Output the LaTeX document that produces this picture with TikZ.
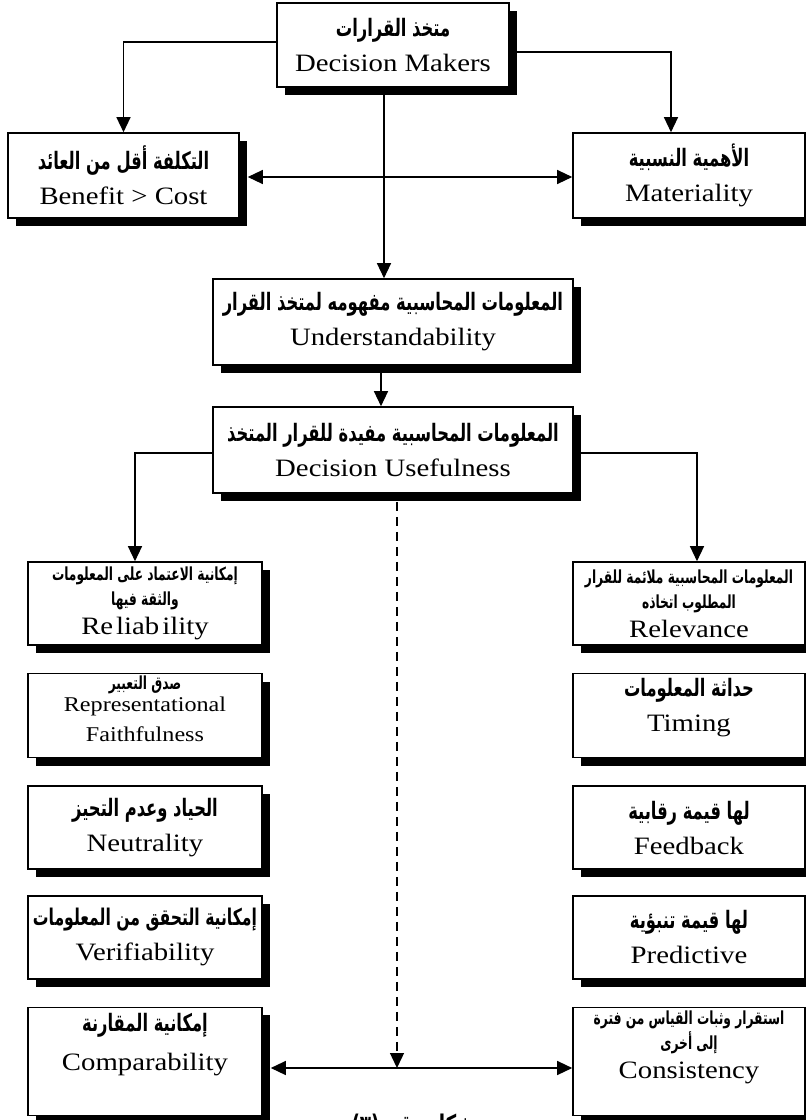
\documentclass[tikz,border=0pt]{standalone}
\usepackage{fontspec}
\setmainfont{Liberation Serif}[FakeStretch=1.15]
\newfontfamily\arabicfont[Script=Arabic,FakeStretch=0.68]{DejaVu Sans}
\TeXXeTstate=1
\usepackage{tikz}
\usetikzlibrary{positioning,arrows.meta,shadows}
\newcommand{\ar}[2][24]{{\arabicfont\bfseries\fontsize{#1}{#1}\selectfont\beginR #2\endR}}

\begin{document}
\begin{tikzpicture}[x=1pt,y=-1pt,font=\fontsize{25}{35}\selectfont,node distance=27pt]
  \tikzstyle{card}=[draw,line width=1.6pt,fill=white,align=center,inner sep=1pt,
    drop shadow={shadow xshift=8pt,shadow yshift=-8pt,fill=black,opacity=1}]
  \tikzstyle{leftcol}=[card,minimum width=234pt,minimum height=83pt]
  \tikzstyle{rightcol}=[card,minimum width=232pt,minimum height=83pt]
  \tikzstyle{link}=[line width=1.3pt,-{Triangle[length=15pt,width=14pt]}]
  \tikzstyle{both}=[line width=1.3pt,{Triangle[length=15pt,width=14pt]}-{Triangle[length=15pt,width=14pt]}]
  \useasboundingbox (0,0) rectangle (806,1120);

  \node[card,minimum width=232pt,minimum height=84pt] (makers) at (393,45)
    {\ar{متخذ القرارات}\\Decision Makers};
  \node[card,minimum width=231pt,minimum height=85pt] (benefit) at (123.5,175.5)
    {\ar{التكلفة أقل من العائد}\\Benefit > Cost};
  \node[card,minimum width=232pt,minimum height=85pt] (mater) at (689,175.5)
    {\ar{الأهمية النسبية}\\Materiality};
  \node[card,minimum width=360pt,minimum height=86pt] (under) at (393,322)
    {\ar{المعلومات المحاسبية مفهومه لمتخذ القرار}\\Understandability};
  \node[card,minimum width=360pt,minimum height=86pt] (useful) at (393,450)
    {\ar{المعلومات المحاسبية مفيدة للقرار المتخذ}\\Decision Usefulness};

  % left column
  \node[leftcol] (rel) at (145,603.5)
    {\ar[18]{إمكانية الاعتماد على المعلومات}\\[-10pt]\ar[18]{والثقة فيها}\\[-6pt]
     Re\hspace{3pt}liab\hspace{3pt}ility};
  \node[leftcol,below=of rel,minimum height=84pt,font=\fontsize{21}{30}\selectfont,text depth=14pt] (rep)
    {\ar[18]{صدق التعبير}\\[-8pt]Representational\\Faithfulness};
  \node[leftcol,below=of rep] (neu) {\ar{الحياد وعدم التحيز}\\Neutrality};
  \node[leftcol,below=25pt of neu] (ver) {\ar[23]{إمكانية التحقق من المعلومات}\\Verifiability};
  \node[leftcol,below=of ver,minimum height=108pt,text depth=40pt] (com)
    {\ar{إمكانية المقارنة}\\[4pt]Comparability};

  % right column
  \node[rightcol] (relv) at (689,603.5)
    {\ar[18]{المعلومات المحاسبية ملائمة للقرار}\\[-10pt]\ar[18]{المطلوب اتخاذه}\\[-6pt]Relevance};
  \node[rightcol,below=of relv,minimum height=84pt,text depth=22pt] (timing)
    {\ar{حداثة المعلومات}\\Timing};
  \node[rightcol,below=of timing] (feed) {\ar{لها قيمة رقابية}\\Feedback};
  \node[rightcol,below=25pt of feed] (pred) {\ar{لها قيمة تنبؤية}\\Predictive};
  \node[rightcol,below=of pred,minimum height=108pt,text depth=34pt] (cons)
    {\ar[18]{استقرار وثبات القياس من فترة}\\[-10pt]\ar[18]{إلى أخرى}\\[-6pt]Consistency};

  \node[anchor=base] (caption) at (413,1134) {\ar[27]{شكل رقم \beginL(٣)\endL}};

  \coordinate (meet) at (397,1068);

  \draw[link] ([yshift=3pt]makers.west) -| (benefit.north);
  \draw[link] ([yshift=-7pt]makers.east) -| ([xshift=-18pt]mater.north);
  \draw[link] ([xshift=-9pt]makers.south) -- ([xshift=-9pt]makers.south |- under.north);
  \draw[both,shorten <=8pt] ([yshift=-1.5pt]benefit.east) -- ([yshift=-1.5pt]mater.west);
  \draw[link] ([xshift=-12pt]under.south) -- ([xshift=-12pt]useful.north);
  \draw[link] ([yshift=-3pt]useful.west) -| ([xshift=-10pt]rel.north);
  \draw[link] ([yshift=-3pt]useful.east) -| ([xshift=8pt]relv.north);
  \draw[link,dashed,dash pattern=on 9pt off 6pt] ([xshift=4pt,yshift=-8pt]useful.south) -- (meet);
  \draw[both,shorten <=8pt] (com.east |- meet) -- (cons.west |- meet);
\end{tikzpicture}
\end{document}
